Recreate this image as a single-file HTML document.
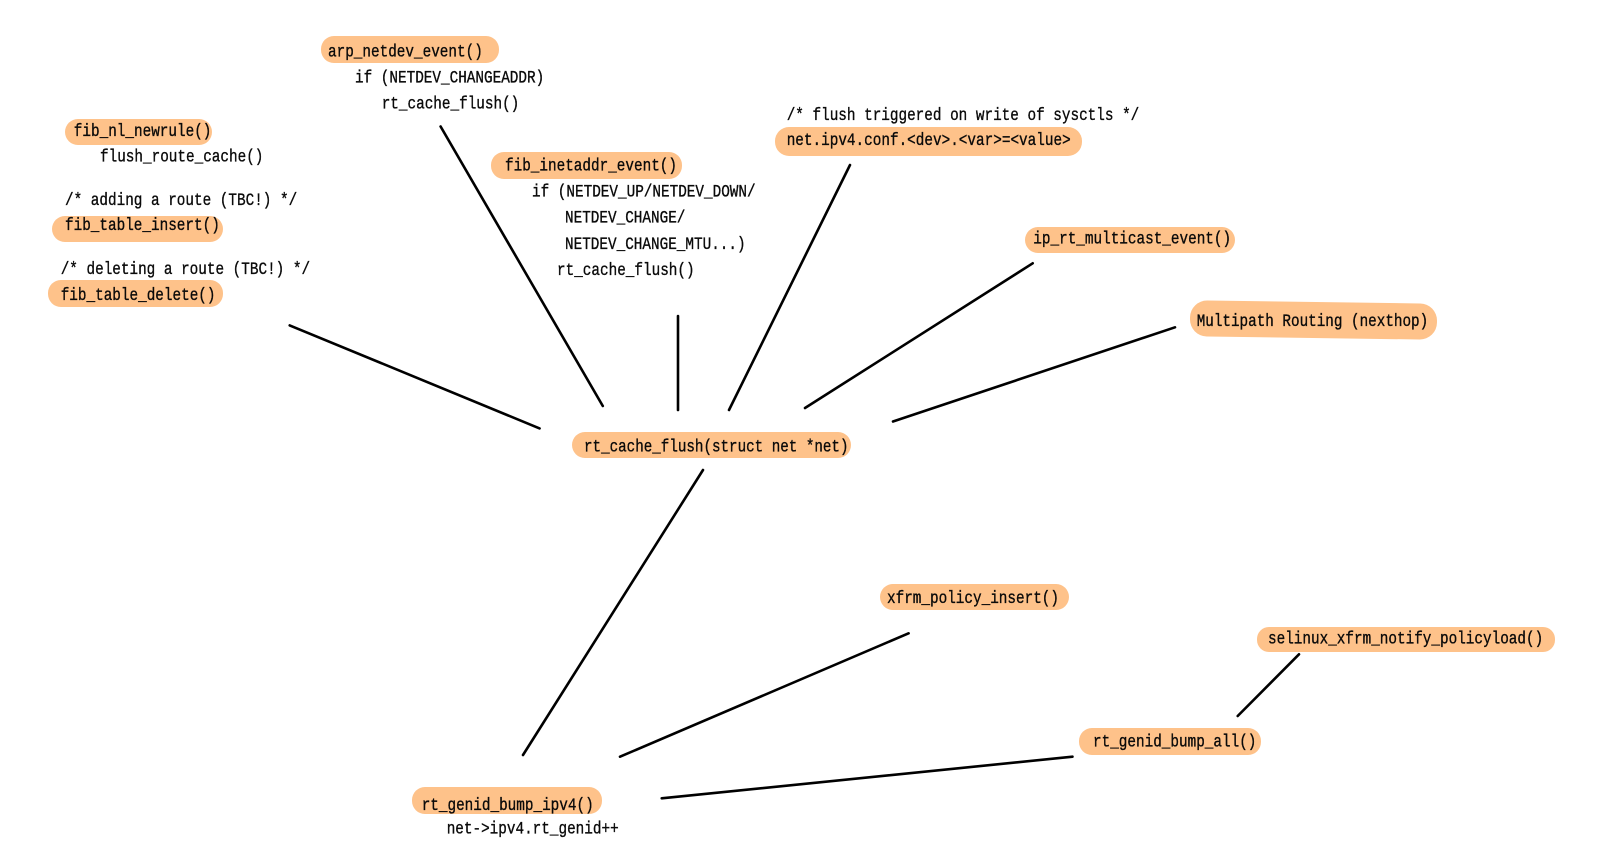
<!DOCTYPE html>
<html>
<head>
<meta charset="utf-8">
<style>
html,body{margin:0;padding:0;background:#fff;}
svg{display:block;}
text{font-family:"Liberation Mono",monospace;font-size:17.5px;fill:#0a0a0a;stroke:#0a0a0a;stroke-width:0.35px;}
.h{fill:#fec28a;}
line{stroke:#000;stroke-width:2.6;stroke-linecap:round;}
</style>
</head>
<body>
<svg width="1599" height="866" viewBox="0 0 1599 866" xmlns="http://www.w3.org/2000/svg">
<!-- highlights -->
<rect class="h" x="321" y="36" width="178" height="27" rx="13"/>
<rect class="h" x="65" y="119" width="147" height="26" rx="13"/>
<rect class="h" x="52" y="216" width="171" height="26" rx="13"/>
<rect class="h" x="48" y="280" width="175" height="27" rx="13"/>
<rect class="h" x="491" y="152" width="191" height="27" rx="13"/>
<rect class="h" x="775" y="127" width="307" height="29" rx="14"/>
<rect class="h" x="1025" y="227" width="210" height="26" rx="13"/>
<rect class="h" x="1190" y="302" width="247" height="36" rx="17" transform="rotate(0.8 1313 320)"/>
<rect class="h" x="572" y="432" width="279" height="26" rx="13"/>
<rect class="h" x="880" y="584" width="189" height="26" rx="13"/>
<rect class="h" x="1257" y="627" width="298" height="25" rx="12"/>
<rect class="h" x="1079" y="728" width="182" height="27" rx="13"/>
<rect class="h" x="412" y="787" width="190" height="27" rx="13"/>

<!-- connectors -->
<line x1="289.7" y1="325.4" x2="539.6" y2="428.4"/>
<line x1="440.6" y1="126.5" x2="602.8" y2="406"/>
<line x1="678" y1="316" x2="678" y2="410"/>
<line x1="850" y1="165" x2="729" y2="410"/>
<line x1="1032.7" y1="263.3" x2="805" y2="408"/>
<line x1="1175" y1="327.3" x2="893" y2="421.5"/>
<line x1="703" y1="470" x2="523" y2="755"/>
<line x1="908.6" y1="633.3" x2="620" y2="756.7"/>
<line x1="1072.5" y1="756.7" x2="661.7" y2="798.3"/>
<line x1="1299" y1="654.3" x2="1237.7" y2="716"/>

<!-- text -->
<text x="328" y="56.5" textLength="154.8" lengthAdjust="spacingAndGlyphs">arp_netdev_event()</text>
<text x="355" y="82.5" textLength="189.2" lengthAdjust="spacingAndGlyphs">if (NETDEV_CHANGEADDR)</text>
<text x="381.7" y="108.3" textLength="137.6" lengthAdjust="spacingAndGlyphs">rt_cache_flush()</text>

<text x="73.8" y="136" textLength="137.6" lengthAdjust="spacingAndGlyphs">fib_nl_newrule()</text>
<text x="100" y="161.7" textLength="163.4" lengthAdjust="spacingAndGlyphs">flush_route_cache()</text>
<text x="65" y="205" textLength="232.2" lengthAdjust="spacingAndGlyphs">/* adding a route (TBC!) */</text>
<text x="65" y="230" textLength="154.8" lengthAdjust="spacingAndGlyphs">fib_table_insert()</text>
<text x="60.7" y="274" textLength="249.4" lengthAdjust="spacingAndGlyphs">/* deleting a route (TBC!) */</text>
<text x="60.7" y="300" textLength="154.8" lengthAdjust="spacingAndGlyphs">fib_table_delete()</text>

<text x="505" y="170.5" textLength="172" lengthAdjust="spacingAndGlyphs">fib_inetaddr_event()</text>
<text x="532" y="196.7" textLength="223.6" lengthAdjust="spacingAndGlyphs">if (NETDEV_UP/NETDEV_DOWN/</text>
<text x="565" y="222.5" textLength="120.4" lengthAdjust="spacingAndGlyphs">NETDEV_CHANGE/</text>
<text x="565" y="249" textLength="180.6" lengthAdjust="spacingAndGlyphs">NETDEV_CHANGE_MTU...)</text>
<text x="557" y="275.2" textLength="137.6" lengthAdjust="spacingAndGlyphs">rt_cache_flush()</text>

<text x="786.7" y="120" textLength="352.6" lengthAdjust="spacingAndGlyphs">/* flush triggered on write of sysctls */</text>
<text x="786.7" y="145" textLength="284" lengthAdjust="spacingAndGlyphs">net.ipv4.conf.&lt;dev&gt;.&lt;var&gt;=&lt;value&gt;</text>

<text x="1033.3" y="243.3" textLength="197.8" lengthAdjust="spacingAndGlyphs">ip_rt_multicast_event()</text>
<text x="1196.7" y="326" textLength="231.5" lengthAdjust="spacingAndGlyphs">Multipath Routing (nexthop)</text>

<text x="584" y="451.7" textLength="264.5" lengthAdjust="spacingAndGlyphs">rt_cache_flush(struct net *net)</text>

<text x="887" y="603" textLength="172" lengthAdjust="spacingAndGlyphs">xfrm_policy_insert()</text>
<text x="1268" y="643.3" textLength="275.2" lengthAdjust="spacingAndGlyphs">selinux_xfrm_notify_policyload()</text>
<text x="1093" y="746.7" textLength="163.4" lengthAdjust="spacingAndGlyphs">rt_genid_bump_all()</text>

<text x="421.7" y="810" textLength="172" lengthAdjust="spacingAndGlyphs">rt_genid_bump_ipv4()</text>
<text x="446.7" y="833.3" textLength="172" lengthAdjust="spacingAndGlyphs">net-&gt;ipv4.rt_genid++</text>
</svg>
</body>
</html>
